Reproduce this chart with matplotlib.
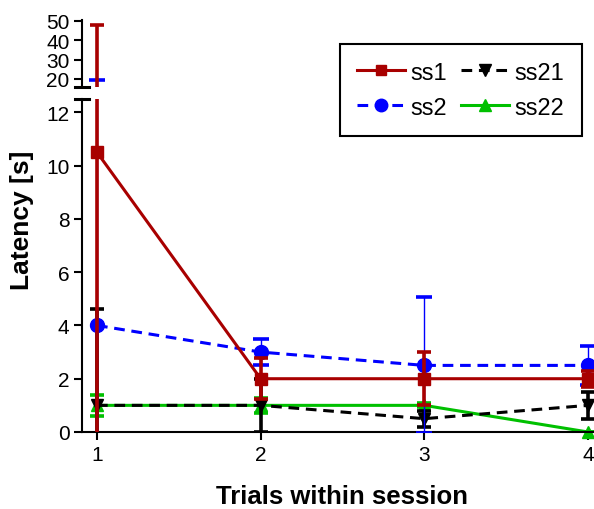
import matplotlib
matplotlib.use("Agg")
import matplotlib.pyplot as plt
from matplotlib.lines import Line2D

plt.rcParams['font.family'] = ['Liberation Sans', 'DejaVu Sans']

trials = [1, 2, 3, 4]
series_names = ["ss1", "ss2", "ss21", "ss22"]
ss1 = [10.5, 2.0, 2.0, 2.0]
ss1_err = [37.5, 0.76, 1.0, 0.3]
ss2 = [4.0, 3.0, 2.5, 2.5]
ss2_err = [15.5, 0.5, 2.55, 0.72]
ss21 = [1.0, 1.0, 0.5, 1.0]
ss21_err = [3.6, 1.0, 0.3, 0.5]
ss22 = [1.0, 1.0, 1.0, 0.0]
ss22_err = [0.4, 0.27, 0.08, 0.0]

lower_ticks = [0, 2, 4, 6, 8, 10, 12]
upper_ticks = [20, 30, 40, 50]

styles = {
    "ss1": dict(color="#a80000", marker="s", ls="-", ms=8, lw=2.2, elw=2.6, cap=5),
    "ss2": dict(color="#0000ff", marker="o", ls=(0, (3.5, 2.2)), ms=10, lw=2.2, elw=1.0, cap=6),
    "ss21": dict(color="#000000", marker="v", ls=(0, (3.5, 2.2)), ms=9, lw=2.2, elw=2.6, cap=5),
    "ss22": dict(color="#00c000", marker="^", ls="-", ms=9, lw=2.2, elw=2.6, cap=5),
}
data = {"ss1": (ss1, ss1_err), "ss2": (ss2, ss2_err),
        "ss21": (ss21, ss21_err), "ss22": (ss22, ss22_err)}
order = ["ss22", "ss21", "ss2", "ss1"]

fig = plt.figure(figsize=(5.94, 5.10), dpi=100)
ax_lo = fig.add_axes([82 / 594, 1 - 433 / 510, 512 / 594, 333 / 510])
ax_hi = fig.add_axes([82 / 594, 1 - 88 / 510, 512 / 594, 67 / 510])

x0, x1 = 1 - 15 / 163.7, 4 + 6 / 163.7
for ax in (ax_lo, ax_hi):
    for z, name in enumerate(order):
        vals, errs = data[name]
        st = styles[name]
        ax.errorbar(trials, vals, yerr=errs, fmt="none", ecolor=st["color"],
                    elinewidth=st["elw"], capsize=st["cap"], capthick=2.6,
                    zorder=2 + z, clip_on=True)
        ax.plot(trials, vals, color=st["color"], marker=st["marker"], ls=st["ls"],
                ms=st["ms"], lw=st["lw"], zorder=2.5 + z, clip_on=False if ax is ax_lo else True)
    ax.set_xlim(x0, x1)
    for s in ("top", "right"):
        ax.spines[s].set_visible(False)
    ax.spines["left"].set_linewidth(1.5)
    ax.tick_params(axis="y", direction="out", length=6, width=1.5, labelsize=15, pad=3)

ax_lo.set_ylim(0, 12.5)
ax_lo.set_yticks(lower_ticks)
ax_lo.set_xticks(trials)
ax_lo.tick_params(axis="x", direction="out", length=6, width=1.5, labelsize=15)
ax_lo.spines["bottom"].set_linewidth(1.5)

ax_hi.set_ylim(15.8, 50.5)
ax_hi.set_yticks(upper_ticks)
ax_hi.spines["bottom"].set_visible(False)
ax_hi.set_xticks([])

# axis break caps
for yb in (1 - 88 / 510, 1 - 100 / 510):
    fig.add_artist(Line2D([75 / 594, 89 / 594], [yb, yb], color="black", lw=2.2,
                          transform=fig.transFigure))

fig.text(22 / 594, 1 - 220 / 510, "Latency [s]", rotation=90,
         ha="center", va="center", fontsize=19, fontweight="bold")
fig.text(342 / 594, 1 - 497 / 510, "Trials within session",
         ha="center", va="center", fontsize=18.5, fontweight="bold")

handles = []
for name in series_names:
    st = styles[name]
    handles.append(Line2D([], [], color=st["color"], marker=st["marker"], ls=st["ls"],
                          ms=st["ms"] * 0.9, lw=st["lw"]))
leg = fig.legend(handles, series_names, ncol=2, loc="upper right",
                 bbox_to_anchor=(582 / 594, 1 - 45 / 510), fontsize=17,
                 frameon=True, fancybox=False, edgecolor="black", framealpha=1,
                 handlelength=2.0, handletextpad=0.25, columnspacing=0.6,
                 borderpad=0.75, labelspacing=0.55, borderaxespad=0)
leg.get_frame().set_linewidth(1.5)

fig.savefig("out.png", dpi=100)
